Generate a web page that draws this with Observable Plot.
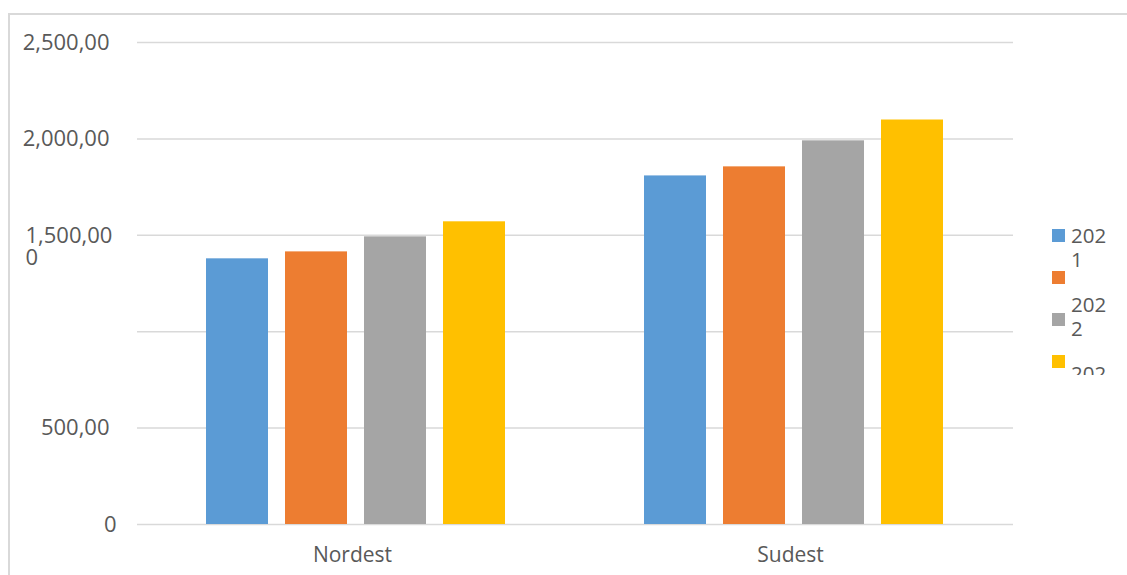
<!DOCTYPE html>
<html>
<head>
<meta charset="utf-8">
<script src="https://cdn.jsdelivr.net/npm/d3@7"></script>
<script src="https://cdn.jsdelivr.net/npm/@observablehq/plot@0.6"></script>
<style>
  html, body { margin: 0; padding: 0; background: #ffffff; }
  #wrap { position: relative; width: 1127px; height: 575px; overflow: hidden; font-family: 'Open Sans', sans-serif; }
  #frame { position: absolute; left: 8px; top: 13px; width: 1200px; height: 700px; border-top: 2px solid #d9d9d9; border-left: 2px solid #d9d9d9; box-sizing: border-box; }
  #chart { position: absolute; left: 0; top: 0; }
  #legend { position: absolute; left: 0; top: 0; }
</style>
</head>
<body>
<div id="wrap">
  <div id="frame"></div>
  <div id="chart"></div>
  <svg id="legend" width="1127" height="575"></svg>
</div>
<script>
// ---- data ----
const regions = ["Nordest", "Sudest"];
const years = ["2021", "2022", "2023", "2024"];
const nordestValues = [1378, 1414, 1492, 1570];
const sudestValues = [1808, 1855, 1990, 2098];
const seriesColors = ["#5b9bd5", "#ed7d31", "#a5a5a5", "#ffc000"];
const yTicks = [0, 500, 1000, 1500, 2000, 2500];
const yTickLabels = ["0", "500,00", "", "1,500,00", "2,000,00", "2,500,00"];
const yWrapTail = "0"; // wrapped remainder of the "1,500,00" label

const valuesByRegion = [nordestValues, sudestValues];
const data = regions.flatMap((r, i) =>
  years.map((y, j) => ({ region: r, year: y, value: valuesByRegion[i][j] }))
);
const labelOf = d => yTickLabels[yTicks.indexOf(d)];
const wrappedIdx = 3;
const plainTicks = yTicks.filter((d, i) => i > 0 && i !== wrappedIdx && yTickLabels[i] !== "");

const chart = Plot.plot({
  width: 1127,
  height: 575,
  marginLeft: 137,
  marginRight: 114,
  marginTop: 42,
  marginBottom: 51,
  style: { fontFamily: "'Open Sans', sans-serif", fontSize: "21px", color: "#595959", background: "transparent" },
  fx: { domain: regions, padding: 0, label: null },
  x: { domain: years, paddingInner: 0.21, paddingOuter: 0.853, axis: null },
  y: { domain: [0, 2500], label: null },
  color: { domain: years, range: seriesColors },
  marks: [
    Plot.ruleY(yTicks, { stroke: "#d9d9d9", strokeWidth: 1.5 }),
    Plot.barY(data, { fx: "region", x: "year", y: "value", fill: "year" }),
    Plot.axisY(plainTicks, {
      tickSize: 0, tickPadding: 28, tickFormat: labelOf,
      fill: "#595959", fontSize: 22, label: null
    }),
    Plot.axisY(yTicks.slice(0, 1), {
      tickSize: 0, tickPadding: 21, tickFormat: labelOf,
      fill: "#595959", fontSize: 22, label: null
    }),
    Plot.text([{ r: regions[0], v: yTicks[wrappedIdx], t: yTickLabels[wrappedIdx] + "\n" + yWrapTail }], {
      fx: "r", y: "v", text: "t",
      frameAnchor: "left", textAnchor: "start", lineAnchor: "top", lineHeight: 1,
      dx: -112, dy: -8, fill: "#595959", fontSize: 22
    }),
    Plot.axisFx({ anchor: "bottom", tickSize: 0, tickPadding: 23, label: null, fill: "#595959", fontSize: 21, dx: -4 })
  ]
});
document.getElementById("chart").appendChild(chart);

// ---- legend (Excel-style, wrapped and clipped) ----
const lg = d3.select("#legend");
lg.append("defs").append("clipPath").attr("id", "lgclip")
  .append("rect").attr("x", 1040).attr("y", 220).attr("width", 87).attr("height", 155);
const g = lg.append("g").attr("clip-path", "url(#lgclip)")
  .style("font-family", "'Open Sans', sans-serif").style("font-size", "20.5px").attr("fill", "#595959");
years.forEach((y, i) => {
  g.append("rect").attr("x", 1052).attr("y", 229 + 42 * i).attr("width", 13).attr("height", 13)
    .attr("fill", seriesColors[i]);
  const base = 243 + 69 * i;
  const t = g.append("text").attr("x", 1071).attr("y", base);
  t.append("tspan").attr("x", 1071).text(y.slice(0, 3));
  t.append("tspan").attr("x", 1071).attr("dy", 24).text(y.slice(3));
});
</script>
</body>
</html>
